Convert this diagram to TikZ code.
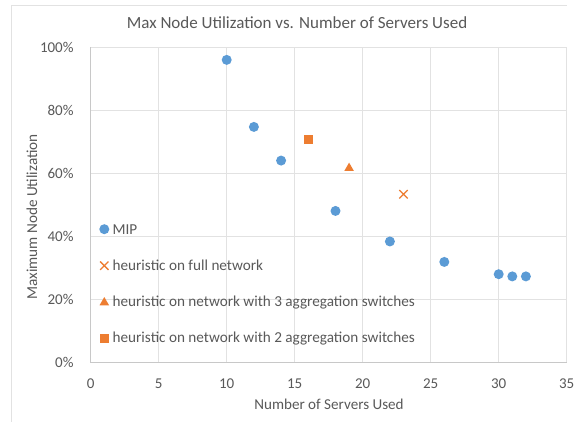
\documentclass[tikz,border=0pt]{standalone}
\usepackage{fontspec}
\setmainfont{Carlito}
\definecolor{mipblue}{HTML}{5B9BD5}
\definecolor{heurorange}{HTML}{ED7D31}
\definecolor{txtgray}{HTML}{595959}
\definecolor{gridgray}{HTML}{E2E2E2}
\definecolor{axisgray}{HTML}{C8C8C8}
\tikzset{
  mip/.style={circle,fill=mipblue,inner sep=0pt,minimum size=10pt},
  hfull/.style={cross out,draw=heurorange,line width=1.3pt,inner sep=0pt,minimum size=7pt},
  hthree/.style={regular polygon,regular polygon sides=3,fill=heurorange,inner sep=0pt,minimum size=11pt},
  htwo/.style={rectangle,fill=heurorange,inner sep=0pt,minimum size=9pt},
  ticklbl/.style={text=txtgray,font=\fontsize{15}{18}\selectfont},
  legtxt/.style={text=txtgray,anchor=west,inner sep=0pt,font=\fontsize{15.2}{18}\selectfont},
}
\usetikzlibrary{shapes.misc,shapes.geometric}
\begin{document}
\begin{tikzpicture}[x=1pt,y=1pt]
    \useasboundingbox (0,0) rectangle (576,422);
    \fill[white] (0,0) rectangle (576,422);
    \draw[gridgray,line width=0.8pt] (11,0) -- (11,417) -- (567,417);
    \node (title) at (297,399) [text=txtgray,font=\fontsize{17}{20}\selectfont]
      {Max Node Utilization vs. Number of Servers Used};
    \node (ytitle) at (32,205) [rotate=90,text=txtgray,font=\fontsize{15.2}{18}\selectfont]
      {Maximum Node Utilization};
    \node (xtitle) at (329,18) [text=txtgray,font=\fontsize{15.1}{18}\selectfont]
      {Number of Servers Used};
  \begin{scope}[shift={(90.7,60)},x=13.6pt,y=3.147pt]
    \foreach \gx in {5,10,...,35}
      \draw[gridgray,line width=0.7pt] (\gx,0) -- (\gx,100);
    \foreach \gy in {20,40,...,100}
      \draw[gridgray,line width=0.7pt] (0,\gy) -- (35,\gy);
    \draw[axisgray,line width=0.8pt] (0,100) -- (0,0) -- (35,0);
    \foreach \gx in {0,5,...,35}
      \node[ticklbl] at (\gx,-6.9) {\gx};
    \foreach \gy in {0,20,...,100}
      \node[ticklbl,anchor=east] at (-1,\gy) {\gy\%};
    % legend
    \node[mip] (lmip) at (1,42.2) {};
    \node[legtxt] (tmip) at (1.6,42.2) {MIP};
    \node[hfull] (lfull) at (1,30.6) {};
    \node[legtxt] (tfull) at (1.6,30.6) {heuristic on full network};
    \node[hthree] (lthree) at (1,18.9) {};
    \node[legtxt] (tthree) at (1.6,18.9) {heuristic on network with 3 aggregation switches};
    \node[htwo] (ltwo) at (1,7.4) {};
    \node[legtxt] (ttwo) at (1.6,7.4) {heuristic on network with 2 aggregation switches};
    % MIP points
    \node[mip] (m1) at (10,96) {};
    \node[mip] (m2) at (12,74.7) {};
    \node[mip] (m3) at (14,64) {};
    \node[mip] (m4) at (18,48) {};
    \node[mip] (m5) at (22,38.3) {};
    \node[mip] (m6) at (26,31.8) {};
    \node[mip] (m7) at (30,27.9) {};
    \node[mip] (m8) at (31,27.2) {};
    \node[mip] (m9) at (32,27.2) {};
    % heuristic points
    \node[hfull] (pfull) at (23,53.3) {};
    \node[hthree] (pthree) at (19,61.6) {};
    \node[htwo] (ptwo) at (16,70.8) {};
  \end{scope}
\end{tikzpicture}
\end{document}
